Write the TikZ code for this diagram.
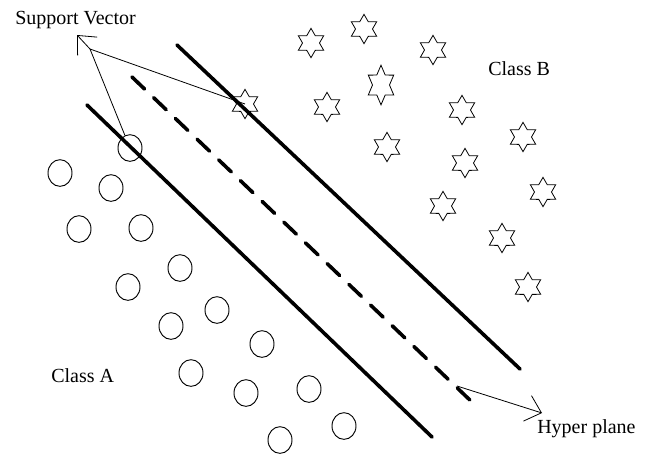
\documentclass[tikz,border=0pt]{standalone}
\usepackage{fontspec}
\setmainfont{Liberation Serif}
\usetikzlibrary{shapes.geometric,arrows.meta}

\begin{document}
\begin{tikzpicture}[x=0.75pt,y=-0.75pt,
    ptA/.style={draw,ellipse,inner sep=0pt,minimum width=18pt,minimum height=20pt,line width=0.7pt},
    ptB/.style={draw,star,star points=6,star point ratio=1.73,inner sep=0pt,minimum size=22pt,line width=0.6pt},
    margin/.style={line width=2.7pt,line cap=round},
    lbl/.style={font=\rmfamily\fontsize{15}{18}\selectfont,inner sep=0pt,anchor=base west},
    pointer/.style={line width=0.6pt,-{Straight Barb[length=11pt,width=20pt]}}]
      \useasboundingbox (0,0) rectangle (649,455);
      % margins and hyper plane
      \coordinate (upA) at (177,45);  \coordinate (upB) at (520,369);
      \coordinate (loA) at (87,105);  \coordinate (loB) at (432,437);
      \coordinate (hpA) at (132,77);  \coordinate (hpB) at (473,403);
      \draw[margin] (upA)--(upB);
      \draw[margin] (loA)--(loB);
      \draw[margin,dash pattern=on 13pt off 9.5pt] (hpA)--(hpB);
      % class A points (c1 is the support vector)
      \foreach \x/\y [count=\i] in {130/148,60/173,111/188,79/229,141/228,180/268,128/287,217/310,
                                    171/326,262/344,191/373,246/393,309/389,344/426,280/440}
        \node[ptA] (c\i) at (\x,\y) {};
      % class B points (s1 is the support vector)
      \foreach \x/\y [count=\i] in {245/104,311/43,364/29,433/50,327/107,462/110,387/147,
                                    523/137,465/163,543/192,443/206,502/238,528/287}
        \node[ptB] (s\i) at (\x,\y) {};
      \node[ptB,yscale=1.35,transform shape] (sTall) at (381,85) {};
      % labels
      \node[lbl] (sv) at (15,24.5) {Support Vector};
      \node[lbl] (clA) at (51,382) {Class A};
      \node[lbl] (clB) at (488,75) {Class B};
      \node[lbl] (hp) at (537,433) {Hyper plane};
      % pointers
      \coordinate (apex) at (90,49);
      \coordinate (svtip) at (77,35);
      \coordinate (hpfrom) at (457,386);
      \coordinate (hptip) at (542,413);
      \draw[line width=0.6pt] (s1.center)--(apex)--(c1);
      \draw[pointer] (apex)--(svtip);
      \draw[pointer] (hpfrom)--(hptip);
    \end{tikzpicture}
\end{document}
